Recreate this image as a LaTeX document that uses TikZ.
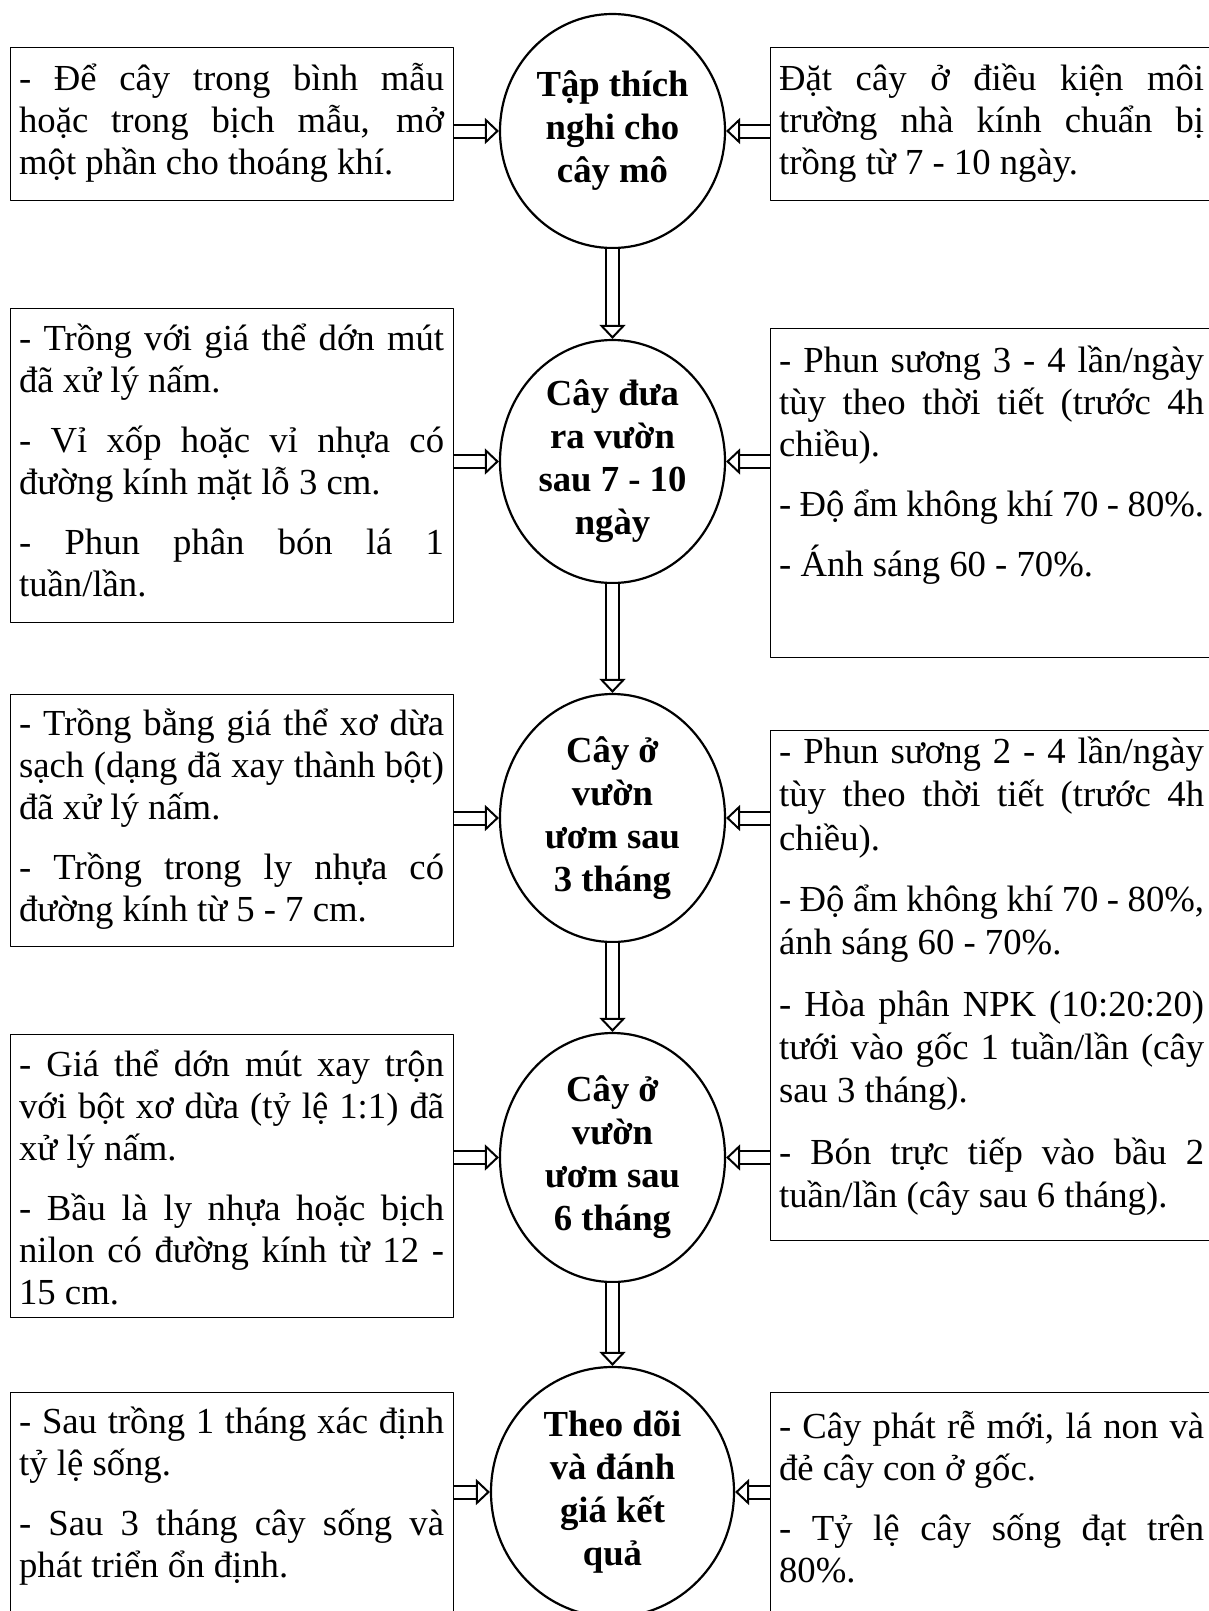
\documentclass[tikz,border=0pt]{standalone}
\usepackage{fontspec}
\setmainfont{Liberation Serif}
\usetikzlibrary{arrows.meta, shapes.geometric}

\begin{document}
\begin{tikzpicture}[x=1pt, y=-1pt, line join=round,
    stage/.style={draw, ellipse, line width=2.2pt, inner sep=0pt, align=center,
      minimum width=225pt, font=\fontsize{36.7}{43}\selectfont\bfseries},
    notebox/.style={draw, line width=1.2pt, anchor=north west,
      inner xsep=9pt, inner ysep=0pt, text width=425pt, align=justify,
      font=\fontsize{36.7}{42}\selectfont,
      execute at begin node={\setlength{\parskip}{18pt}\tolerance=10000\hyphenpenalty=10000}},
    hollow/.style={double, double distance=11pt, line width=2pt, line cap=butt,
      -{Triangle[open, length=14pt, width=26pt, line width=2pt]}}]

  \useasboundingbox (0,0) rectangle (1209,1611);

  %% ---- stages (centre column) ----
  \node[stage, minimum height=234pt] (tap)    at (612.5,131)    {Tập thích\\nghi cho\\cây mô};
  \node[stage, minimum height=243pt] (vuon)   at (612.5,461.5)  {Cây đưa\\ra vườn\\sau 7 - 10\\ngày};
  \node[stage, minimum height=248pt] (uom3)   at (612.5,818)    {Cây ở\\vườn\\ươm sau\\3 tháng};
  \node[stage, minimum height=249pt] (uom6)   at (612.5,1157.5) {Cây ở\\vườn\\ươm sau\\6 tháng};
  \node[stage, minimum width=243pt, minimum height=250pt] (ketqua) at (612.5,1492)
    {Theo dõi\\và đánh\\giá kết\\quả};

  %% ---- left notes ----
  \node[notebox] (tapleft) at (9.5,47) {\rule{0pt}{43pt}- Để cây trong bình mẫu\linebreak
    hoặc trong bịch mẫu, mở\linebreak một phần cho thoáng khí.\rule[-26pt]{0pt}{26pt}};
  \node[notebox] (vuonleft) at (9.5,308) {\rule{0pt}{42pt}- Trồng với giá thể dớn mút\linebreak
    đã xử lý nấm.\par
    - Vỉ xốp hoặc vỉ nhựa có\linebreak đường kính mặt lỗ 3 cm.\par
    - Phun phân bón lá 1\linebreak tuần/lần.\rule[-26pt]{0pt}{26pt}};
  \node[notebox] (uom3left) at (9.5,694) {\rule{0pt}{41pt}- Trồng bằng giá thể xơ dừa\linebreak
    sạch (dạng đã xay thành bột)\linebreak đã xử lý nấm.\par
    - Trồng trong ly nhựa có\linebreak đường kính từ 5 - 7 cm.\rule[-25pt]{0pt}{25pt}};
  \node[notebox] (uom6left) at (9.5,1034) {\rule{0pt}{42pt}- Giá thể dớn mút xay trộn\linebreak
    với bột xơ dừa (tỷ lệ 1:1) đã\linebreak xử lý nấm.\par
    - Bầu là ly nhựa hoặc bịch\linebreak nilon có đường kính từ 12 -\linebreak
    15 cm.\rule[-13pt]{0pt}{13pt}};
  \node[notebox] (ketqualeft) at (9.5,1392) {\rule{0pt}{41pt}- Sau trồng 1 tháng xác định\linebreak
    tỷ lệ sống.\par
    - Sau 3 tháng cây sống và\linebreak phát triển ổn định.\rule[-50pt]{0pt}{50pt}};

  %% ---- right notes (run off the page edge) ----
  \node[notebox] (tapright) at (769.5,47) {\rule{0pt}{43pt}Đặt cây ở điều kiện môi\linebreak
    trường nhà kính chuẩn bị\linebreak trồng từ 7 - 10 ngày.\rule[-26pt]{0pt}{26pt}};
  \node[notebox] (vuonright) at (769.5,328) {\rule{0pt}{44pt}- Phun sương 3 - 4 lần/ngày\linebreak
    tùy theo thời tiết (trước 4h\linebreak chiều).\par
    - Độ ẩm không khí 70 - 80\%.\par
    - Ánh sáng 60 - 70\%.\rule[-81pt]{0pt}{81pt}};
  \node[notebox, font=\fontsize{36.7}{43.3}\selectfont] (uomright) at (769.5,730)
    {\rule{0pt}{33pt}- Phun sương 2 - 4 lần/ngày\linebreak
    tùy theo thời tiết (trước 4h\linebreak chiều).\par
    - Độ ẩm không khí 70 - 80\%,\linebreak ánh sáng 60 - 70\%.\par
    - Hòa phân NPK (10:20:20)\linebreak tưới vào gốc 1 tuần/lần (cây\linebreak sau 3 tháng).\par
    - Bón trực tiếp vào bầu 2\linebreak tuần/lần (cây sau 6 tháng).\rule[-33pt]{0pt}{33pt}};
  \node[notebox] (ketquaright) at (769.5,1392) {\rule{0pt}{46pt}- Cây phát rễ mới, lá non và\linebreak
    đẻ cây con ở gốc.\par
    - Tỷ lệ cây sống đạt trên\linebreak 80\%.\rule[-50pt]{0pt}{50pt}};

  %% ---- down the column ----
  \draw[hollow] (tap.south)  -- (vuon.north);
  \draw[hollow] (vuon.south) -- (uom3.north);
  \draw[hollow] (uom3.south) -- (uom6.north);
  \draw[hollow] (uom6.south) -- (ketqua.north);

  %% ---- notes into the stages ----
  \foreach \s in {tap, vuon, uom3, uom6, ketqua}
    \draw[hollow] (\s.west -| \s left.east) -- (\s.west);
  \foreach \s/\r in {tap/tapright, vuon/vuonright, uom3/uomright, uom6/uomright, ketqua/ketquaright}
    \draw[hollow] (\s.east -| \r.west) -- (\s.east);

\end{tikzpicture}
\end{document}
